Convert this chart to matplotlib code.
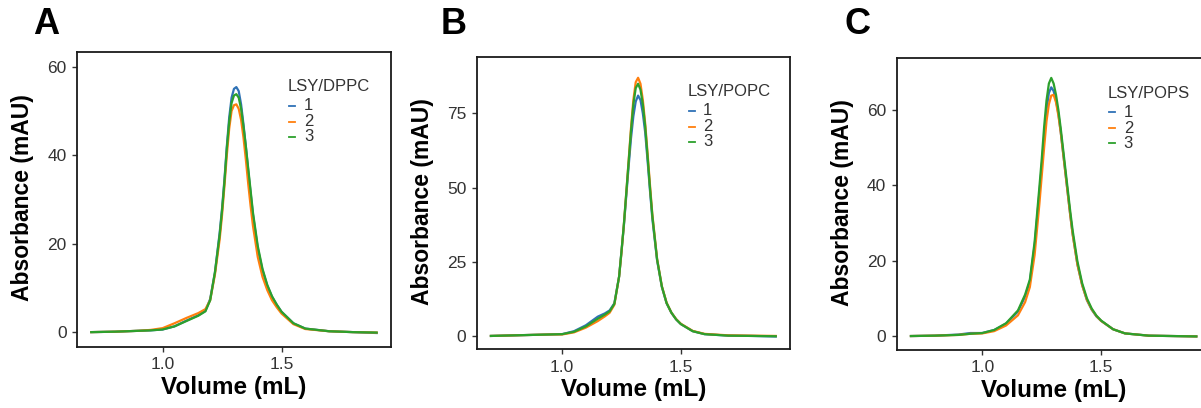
#!/usr/bin/env python3
"""
SEC chromatograms of LSY in three lipid systems (A: DPPC, B: POPC, C: POPS)
three replicates per panel
"""
import numpy as np
import matplotlib
matplotlib.use('Agg')
import matplotlib.pyplot as plt

plt.rcParams['font.family'] = ['Liberation Sans', 'DejaVu Sans']

# elution volume (mL), shared by every trace
volume = [0.70, 0.80, 0.90, 0.95, 1.00, 1.05, 1.10, 1.15, 1.18, 1.20, 1.22, 1.24,
          1.25, 1.26, 1.27, 1.28, 1.29, 1.30, 1.31, 1.32, 1.33, 1.34, 1.35, 1.36,
          1.37, 1.38, 1.40, 1.42, 1.44, 1.46, 1.48, 1.50, 1.55, 1.60, 1.70, 1.80, 1.90]

# A - LSY/DPPC (mAU)
dppc_1 = [0.0, 0.1, 0.3, 0.4, 0.6, 1.3, 2.6, 3.8, 4.8, 7.5, 13.5, 22.5, 28.0, 34.5, 42.0, 48.5,
          53.0, 55.0, 55.4, 54.5, 51.5, 47.0, 42.0, 36.5, 31.5, 26.5, 19.0, 14.0, 10.5, 8.0,
          6.2, 4.6, 2.0, 0.8, 0.2, 0.0, -0.2]
dppc_2 = [0.0, 0.1, 0.3, 0.5, 0.9, 2.0, 3.2, 4.3, 5.2, 7.2, 13.0, 21.0, 26.5, 33.0, 40.0, 46.0,
          50.0, 51.3, 51.5, 50.5, 48.0, 44.0, 39.0, 33.5, 28.5, 24.0, 17.0, 12.5, 9.5, 7.2,
          5.6, 4.2, 1.8, 0.7, 0.2, 0.0, -0.1]
dppc_3 = [0.0, 0.1, 0.3, 0.4, 0.6, 1.3, 2.5, 3.7, 4.7, 7.2, 13.5, 22.0, 27.5, 34.0, 41.5, 47.5,
          51.8, 53.5, 53.8, 53.0, 50.5, 46.5, 42.0, 37.0, 32.0, 27.0, 19.5, 14.3, 10.7, 8.1,
          6.2, 4.6, 2.0, 0.8, 0.2, 0.0, -0.1]

# B - LSY/POPC (mAU)
popc_1 = [0.0, 0.2, 0.4, 0.5, 0.6, 1.6, 3.6, 6.5, 7.6, 8.6, 11.0, 20.0, 28.5, 37.0, 47.0, 57.0,
          66.5, 74.0, 79.0, 81.0, 79.5, 75.0, 68.5, 59.0, 49.0, 39.5, 25.5, 16.5, 11.0, 7.8,
          5.6, 4.0, 1.6, 0.6, 0.1, 0.0, -0.2]
popc_2 = [0.0, 0.2, 0.4, 0.5, 0.5, 1.2, 2.8, 5.0, 6.6, 7.8, 10.5, 20.0, 28.0, 37.5, 48.0, 59.0,
          70.0, 79.5, 85.5, 87.0, 85.0, 79.5, 71.5, 61.5, 51.0, 41.0, 26.0, 16.8, 11.2, 7.9,
          5.7, 4.1, 1.7, 0.7, 0.2, 0.1, 0.0]
popc_3 = [0.0, 0.2, 0.4, 0.5, 0.6, 1.4, 3.2, 5.8, 7.2, 8.3, 10.8, 20.0, 28.5, 37.5, 48.0, 58.5,
          69.0, 78.0, 83.5, 85.0, 83.0, 78.0, 70.5, 60.5, 50.0, 40.5, 25.8, 16.7, 11.1, 7.9,
          5.6, 4.0, 1.6, 0.6, 0.1, 0.0, -0.1]

# C - LSY/POPS (mAU)
pops_1 = [0.0, 0.1, 0.4, 0.8, 0.8, 1.6, 3.3, 6.5, 10.5, 14.5, 24.0, 38.0, 45.0, 53.0, 60.0, 64.5,
          66.0, 65.0, 62.5, 59.0, 54.0, 48.5, 43.0, 37.5, 32.0, 27.0, 19.0, 13.5, 9.5, 7.0,
          5.2, 4.0, 1.8, 0.7, 0.1, 0.0, -0.1]
pops_2 = [0.0, 0.1, 0.3, 0.6, 0.7, 1.3, 2.8, 5.5, 9.0, 13.0, 21.5, 35.0, 42.5, 50.0, 57.0, 61.5,
          63.8, 64.0, 62.0, 58.5, 54.0, 48.5, 43.0, 37.5, 32.0, 27.0, 19.0, 13.5, 9.6, 7.1,
          5.3, 4.0, 1.8, 0.7, 0.1, 0.0, -0.1]
pops_3 = [0.0, 0.1, 0.3, 0.6, 0.8, 1.6, 3.4, 6.8, 11.0, 15.0, 25.0, 39.5, 47.0, 55.5, 62.5, 67.0,
          68.5, 67.0, 64.0, 60.0, 55.0, 49.5, 44.0, 38.5, 33.0, 28.0, 19.8, 14.0, 10.0, 7.3,
          5.4, 4.1, 1.8, 0.7, 0.1, 0.0, -0.1]

replicates = ['1', '2', '3']
colors = ['#2f72b6', '#ff7f0e', '#2ca02c']

panels = [
    # letter, legend title, series, y ticks, y limits, axes rect
    ('A', 'LSY/DPPC', [dppc_1, dppc_2, dppc_3], [0, 20, 40, 60], (-3.3, 63.4),
     [0.0641, 0.1502, 0.2614, 0.7231]),
    ('B', 'LSY/POPC', [popc_1, popc_2, popc_3], [0, 25, 50, 75], (-4.5, 94.1),
     [0.3969, 0.1439, 0.2609, 0.7171]),
    ('C', 'LSY/POPS', [pops_1, pops_2, pops_3], [0, 20, 40, 60], (-3.7, 73.7),
     [0.7466, 0.1422, 0.2614, 0.7149]),
]
letter_x = [46, 454, 858]   # pixel centres of panel letters
FIG_W, FIG_H = 1201, 408


def draw_legend(ax, rect, title):
    """ggplot-like legend: title, then short key line + label per replicate"""
    w_px = rect[2] * FIG_W
    h_px = rect[3] * FIG_H
    x0 = 0.672
    y_title = 1 - 35 / h_px
    ax.text(x0, y_title, title, transform=ax.transAxes, fontsize=12,
            color='#333333', ha='left', va='center')
    for i, (lab, c) in enumerate(zip(replicates, colors)):
        yy = y_title - [19, 35, 50][i] / h_px
        ax.plot([x0 + 1.5 / w_px, x0 + 7.5 / w_px], [yy, yy], color=c,
                linewidth=1.3, transform=ax.transAxes, clip_on=False)
        ax.text(x0 + 16 / w_px, yy, lab, transform=ax.transAxes, fontsize=12,
                color='#333333', ha='left', va='center')


def draw_panel(fig, letter, title, series, yticks, ylim, rect, lx):
    ax = fig.add_axes(rect)
    for y, lab, c in zip(series, replicates, colors):
        ax.plot(volume, y, color=c, linewidth=1.6, label=lab)

    ax.set_xlim(0.64, 1.96)
    ax.set_ylim(*ylim)
    ax.set_xticks([1.0, 1.5])
    ax.set_yticks(yticks)

    for s in ax.spines.values():
        s.set_linewidth(1.3)
        s.set_color('#1a1a1a')
    ax.tick_params(axis='both', length=3.5, width=1.0, color='#333333',
                   labelsize=12.5, labelcolor='#333333', pad=4)

    ax.set_xlabel('Volume (mL)', fontsize=17.5, fontweight='bold', va='center')
    ax.set_ylabel('Absorbance (mAU)', fontsize=16.5, fontweight='bold', va='center')
    ax.xaxis.set_label_coords(0.5, -0.139)
    ax.yaxis.set_label_coords(-0.172, 0.505)

    draw_legend(ax, rect, title)

    fig.text(lx / FIG_W, 1 - 25 / FIG_H, letter, fontsize=26, fontweight='bold',
             ha='center', va='center')
    return ax


def main():
    fig = plt.figure(figsize=(FIG_W / 100, FIG_H / 100), dpi=100)
    for (letter, title, series, yticks, ylim, rect), lx in zip(panels, letter_x):
        draw_panel(fig, letter, title, series, yticks, ylim, rect, lx)
    fig.savefig('out.png', dpi=100)


if __name__ == '__main__':
    main()
